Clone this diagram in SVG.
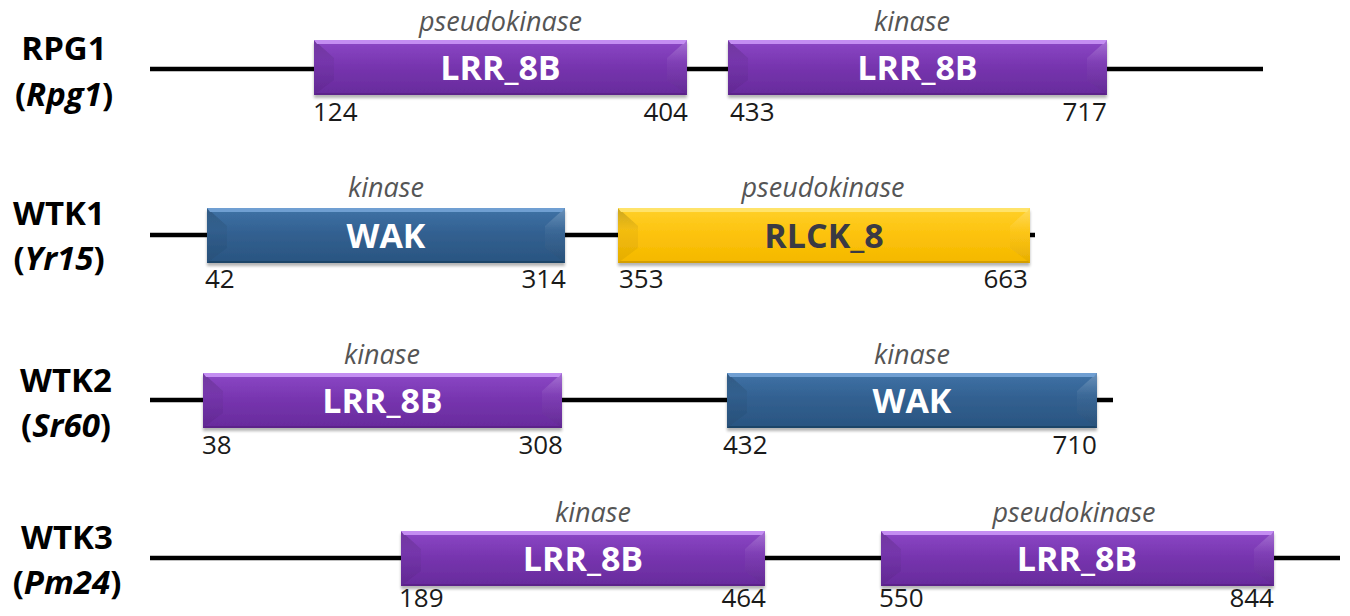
<svg xmlns="http://www.w3.org/2000/svg" width="1350" height="616" viewBox="0 0 1350 616">
  <defs>
    <style>
      .gene { font-family: "Open Sans", "Noto Sans", sans-serif; font-weight: 700; font-size: 33px; fill: #000; text-anchor: middle; }
      .gene .it { font-style: italic; }
      .role { font-family: "Open Sans", "Noto Sans", sans-serif; font-style: italic; font-size: 27px; fill: #555; text-anchor: middle; }
      .pos { font-family: "Open Sans", "Noto Sans", sans-serif; font-size: 26px; fill: #1a1a1a; }
      .pos.end { text-anchor: end; }
      .dom { font-family: "Open Sans", "Noto Sans", sans-serif; font-weight: 700; font-size: 34px; text-anchor: middle; fill: #fff; }
      .dom.dark { fill: #3a3a44; }
      .backbone { stroke: #000; stroke-width: 4.5; fill: none; }
      .purple .body { fill: url(#pBody); }
      .purple .top { fill: #c48ef2; }
      .purple .bot { fill: #5b238a; }
      .blue .body { fill: url(#bBody); }
      .blue .top { fill: #6f9fd2; }
      .blue .bot { fill: #1f4468; }
      .yellow .body { fill: url(#yBody); }
      .yellow .top { fill: #ffe36b; }
      .yellow .bot { fill: #d49e00; }
      .lf { fill: url(#leftShade); }
      .rf { fill: url(#rightShine); }
    </style>
    <linearGradient id="pBody" x1="0" y1="0" x2="0" y2="1">
      <stop offset="0" stop-color="#8c48c6"/>
      <stop offset="0.5" stop-color="#7634ae"/>
      <stop offset="1" stop-color="#682b9c"/>
    </linearGradient>
    <linearGradient id="bBody" x1="0" y1="0" x2="0" y2="1">
      <stop offset="0" stop-color="#3f72a6"/>
      <stop offset="0.5" stop-color="#315f8f"/>
      <stop offset="1" stop-color="#2a5581"/>
    </linearGradient>
    <linearGradient id="yBody" x1="0" y1="0" x2="0" y2="1">
      <stop offset="0" stop-color="#ffd02a"/>
      <stop offset="0.5" stop-color="#fcc20c"/>
      <stop offset="1" stop-color="#f4b800"/>
    </linearGradient>
    <linearGradient id="leftShade" x1="0" y1="0" x2="0" y2="1">
      <stop offset="0" stop-color="#000" stop-opacity="0.2"/>
      <stop offset="0.4" stop-color="#000" stop-opacity="0.04"/>
      <stop offset="1" stop-color="#000" stop-opacity="0.06"/>
    </linearGradient>
    <linearGradient id="rightShine" x1="0" y1="0" x2="0" y2="1">
      <stop offset="0" stop-color="#fff" stop-opacity="0.22"/>
      <stop offset="0.4" stop-color="#fff" stop-opacity="0.04"/>
      <stop offset="1" stop-color="#000" stop-opacity="0.06"/>
    </linearGradient>
    <filter id="shadow" x="-5%" y="-20%" width="110%" height="150%">
      <feGaussianBlur in="SourceAlpha" stdDeviation="1.5"/>
      <feOffset dy="2.5" result="b"/>
      <feComponentTransfer><feFuncA type="linear" slope="0.3"/></feComponentTransfer>
      <feMerge><feMergeNode/><feMergeNode in="SourceGraphic"/></feMerge>
    </filter>
  </defs>

  <!-- protein backbones -->
  <g id="connectors">
    <line class="backbone" x1="150" y1="69" x2="1263" y2="69"/>
    <line class="backbone" x1="150" y1="235" x2="1035" y2="235"/>
    <line class="backbone" x1="150" y1="400" x2="1113" y2="400"/>
    <line class="backbone" x1="150" y1="558" x2="1340" y2="558"/>
  </g>

  <!-- gene names -->
  <g id="label-rpg1"><text class="gene" x="64" y="60">RPG1</text><text class="gene" x="64" y="106">(<tspan class="it">Rpg1</tspan>)</text></g>
  <g id="label-wtk1"><text class="gene" x="59" y="225">WTK1</text><text class="gene" x="59" y="270">(<tspan class="it">Yr15</tspan>)</text></g>
  <g id="label-wtk2"><text class="gene" x="66" y="392">WTK2</text><text class="gene" x="66" y="437">(<tspan class="it">Sr60</tspan>)</text></g>
  <g id="label-wtk3"><text class="gene" x="67" y="549">WTK3</text><text class="gene" x="67" y="594">(<tspan class="it">Pm24</tspan>)</text></g>

  <!-- RPG1 domains -->
  <g id="rpg1-d1" class="purple">
    <g transform="translate(314,40)" filter="url(#shadow)">
      <rect class="body" width="373" height="55"/>
      <polygon class="lf" points="0,0 20,18 20,40 0,55"/>
      <polygon class="rf" points="373,0 353,18 353,40 373,55"/>
      <polygon class="top" points="0,0 373,0 370,4 3,4"/>
      <polygon class="bot" points="0,55 373,55 371,53 2,53"/>
    </g>
    <text class="dom" x="500.5" y="80">LRR_8B</text>
    <text class="role" x="500.5" y="31">pseudokinase</text>
    <text class="pos" x="313" y="121">124</text>
    <text class="pos end" x="688" y="121">404</text>
  </g>
  <g id="rpg1-d2" class="purple">
    <g transform="translate(728,40)" filter="url(#shadow)">
      <rect class="body" width="379" height="55"/>
      <polygon class="lf" points="0,0 20,18 20,40 0,55"/>
      <polygon class="rf" points="379,0 359,18 359,40 379,55"/>
      <polygon class="top" points="0,0 379,0 376,4 3,4"/>
      <polygon class="bot" points="0,55 379,55 377,53 2,53"/>
    </g>
    <text class="dom" x="917.5" y="80">LRR_8B</text>
    <text class="role" x="912" y="31">kinase</text>
    <text class="pos" x="730" y="121">433</text>
    <text class="pos end" x="1107" y="121">717</text>
  </g>

  <!-- WTK1 domains -->
  <g id="wtk1-d1" class="blue">
    <g transform="translate(207,208)" filter="url(#shadow)">
      <rect class="body" width="358" height="55"/>
      <polygon class="lf" points="0,0 20,18 20,40 0,55"/>
      <polygon class="rf" points="358,0 338,18 338,40 358,55"/>
      <polygon class="top" points="0,0 358,0 355,4 3,4"/>
      <polygon class="bot" points="0,55 358,55 356,53 2,53"/>
    </g>
    <text class="dom" x="386" y="248">WAK</text>
    <text class="role" x="386" y="197">kinase</text>
    <text class="pos" x="205" y="288">42</text>
    <text class="pos end" x="566" y="288">314</text>
  </g>
  <g id="wtk1-d2" class="yellow">
    <g transform="translate(618,208)" filter="url(#shadow)">
      <rect class="body" width="412" height="55"/>
      <polygon class="lf" points="0,0 20,18 20,40 0,55"/>
      <polygon class="rf" points="412,0 392,18 392,40 412,55"/>
      <polygon class="top" points="0,0 412,0 409,4 3,4"/>
      <polygon class="bot" points="0,55 412,55 410,53 2,53"/>
    </g>
    <text class="dom dark" x="824" y="248">RLCK_8</text>
    <text class="role" x="823" y="197">pseudokinase</text>
    <text class="pos" x="619" y="288">353</text>
    <text class="pos end" x="1028" y="288">663</text>
  </g>

  <!-- WTK2 domains -->
  <g id="wtk2-d1" class="purple">
    <g transform="translate(203,373)" filter="url(#shadow)">
      <rect class="body" width="359" height="55"/>
      <polygon class="lf" points="0,0 20,18 20,40 0,55"/>
      <polygon class="rf" points="359,0 339,18 339,40 359,55"/>
      <polygon class="top" points="0,0 359,0 356,4 3,4"/>
      <polygon class="bot" points="0,55 359,55 357,53 2,53"/>
    </g>
    <text class="dom" x="382.5" y="413">LRR_8B</text>
    <text class="role" x="382" y="364">kinase</text>
    <text class="pos" x="202" y="454">38</text>
    <text class="pos end" x="563" y="454">308</text>
  </g>
  <g id="wtk2-d2" class="blue">
    <g transform="translate(727,373)" filter="url(#shadow)">
      <rect class="body" width="370" height="55"/>
      <polygon class="lf" points="0,0 20,18 20,40 0,55"/>
      <polygon class="rf" points="370,0 350,18 350,40 370,55"/>
      <polygon class="top" points="0,0 370,0 367,4 3,4"/>
      <polygon class="bot" points="0,55 370,55 368,53 2,53"/>
    </g>
    <text class="dom" x="912" y="413">WAK</text>
    <text class="role" x="912" y="364">kinase</text>
    <text class="pos" x="723" y="454">432</text>
    <text class="pos end" x="1097" y="454">710</text>
  </g>

  <!-- WTK3 domains -->
  <g id="wtk3-d1" class="purple">
    <g transform="translate(401,531)" filter="url(#shadow)">
      <rect class="body" width="364" height="55"/>
      <polygon class="lf" points="0,0 20,18 20,40 0,55"/>
      <polygon class="rf" points="364,0 344,18 344,40 364,55"/>
      <polygon class="top" points="0,0 364,0 361,4 3,4"/>
      <polygon class="bot" points="0,55 364,55 362,53 2,53"/>
    </g>
    <text class="dom" x="583" y="571">LRR_8B</text>
    <text class="role" x="593" y="522">kinase</text>
    <text class="pos" x="399" y="607">189</text>
    <text class="pos end" x="766" y="607">464</text>
  </g>
  <g id="wtk3-d2" class="purple">
    <g transform="translate(881,531)" filter="url(#shadow)">
      <rect class="body" width="393" height="55"/>
      <polygon class="lf" points="0,0 20,18 20,40 0,55"/>
      <polygon class="rf" points="393,0 373,18 373,40 393,55"/>
      <polygon class="top" points="0,0 393,0 390,4 3,4"/>
      <polygon class="bot" points="0,55 393,55 391,53 2,53"/>
    </g>
    <text class="dom" x="1077" y="571">LRR_8B</text>
    <text class="role" x="1074" y="522">pseudokinase</text>
    <text class="pos" x="879" y="607">550</text>
    <text class="pos end" x="1274" y="607">844</text>
  </g>
</svg>
